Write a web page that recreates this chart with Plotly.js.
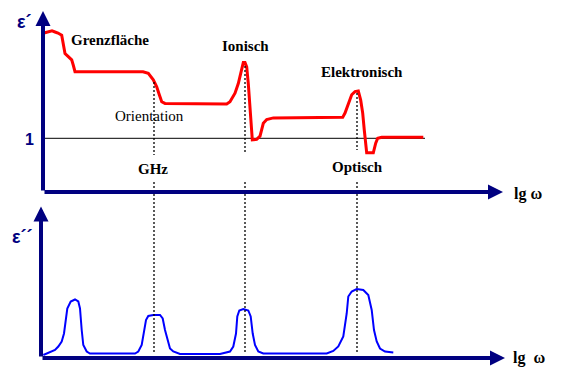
<!DOCTYPE html>
<html>
<head>
<meta charset="utf-8">
<script src="https://cdn.plot.ly/plotly-3.0.1.min.js"></script>
<style>html,body{margin:0;padding:0;background:#fff;}#chart{width:562px;height:371px;}</style>
</head>
<body>
<div id="chart"></div>
<script>
// ---- data (lg ω in arbitrary units) ----
const realX = [0.1,0.9,1.2,1.5,1.87,2.03,2.2,2.53,2.87,3.03,3.2,10.0,10.53,11.03,11.37,11.63,11.87,12.2,18.37,18.7,19.2,19.53,19.8,20.03,20.2,20.37,20.53,20.7,20.87,20.93,21.37,21.7,22.03,22.37,23.03,29.97,30.2,30.53,30.87,31.2,31.53,31.77,31.97,32.13,32.3,32.37,33.03,33.27,33.47,33.87,38.03];
const realY = [2.96,3.00,2.98,2.96,2.92,2.71,2.58,2.52,2.46,2.36,2.24,2.24,2.21,2.09,1.96,1.81,1.68,1.65,1.64,1.68,1.84,2.02,2.24,2.41,2.41,2.33,2.02,1.59,1.15,0.97,0.98,1.04,1.28,1.35,1.38,1.39,1.47,1.62,1.81,1.87,1.88,1.71,1.47,1.15,0.78,0.73,0.73,0.91,1.00,1.02,1.02];
const imagX = [0.03,0.7,1.2,1.53,1.87,2.1,2.3,2.43,2.77,3.2,3.53,3.7,3.87,4.03,4.37,4.7,9.2,9.53,9.87,10.1,10.3,10.53,11.03,11.7,11.97,12.2,12.43,12.7,13.03,13.7,17.7,18.7,19.03,19.3,19.43,19.63,20.03,20.53,20.77,20.97,21.2,21.53,22.03,28.37,29.03,29.53,30.03,30.37,30.53,30.87,31.37,32.03,32.53,32.87,33.1,33.37,33.7,34.2,35.03];
const imagY = [0.06,0.11,0.16,0.23,0.33,0.49,0.76,0.99,1.13,1.17,1.13,0.99,0.56,0.26,0.13,0.09,0.09,0.13,0.26,0.49,0.76,0.84,0.86,0.86,0.79,0.56,0.36,0.19,0.13,0.08,0.08,0.13,0.23,0.49,0.83,0.95,0.98,0.95,0.83,0.49,0.26,0.13,0.09,0.09,0.14,0.23,0.43,0.89,1.23,1.33,1.38,1.36,1.26,0.96,0.56,0.33,0.19,0.13,0.11];
const unityX = [0, 38.2];
const unityY = [1, 1];
const resonanceX = [11.1, 20.2, 31.4];
const mechanismLabels = ["Grenzfläche", "Orientation", "Ionisch", "Elektronisch"];
const regionLabels = ["GHz", "Optisch"];
const axisLabelX = "lg ω";
const axisLabelReal = "ε´";
const axisLabelImag = "ε´´";

// ---- layout helpers (pixel -> paper) ----
const W = 562, H = 371;
const PX = x => x / W;
const PY = y => 1 - y / H;
const NAVY = '#000080';
const SERIF = '"Liberation Serif", "Times New Roman", Times, serif';
const SANS = '"Liberation Sans", Arial, sans-serif';

const traces = [
  {x: unityX, y: unityY, xaxis: 'x', yaxis: 'y', mode: 'lines', line: {color: '#000', width: 1}, hoverinfo: 'skip'},
  {x: realX, y: realY, xaxis: 'x', yaxis: 'y', mode: 'lines', line: {color: '#ff0000', width: 3}, hoverinfo: 'skip'},
  {x: imagX, y: imagY, xaxis: 'x2', yaxis: 'y2', mode: 'lines', line: {color: '#0000ff', width: 2}, hoverinfo: 'skip'}
];

// dotted guide lines (upper and lower pieces, pixel extents)
const guideTop = [82, 66, 93];
const guideUpperEnd = [155, 152, 150];
const shapes = [];
resonanceX.forEach((rx, i) => {
  shapes.push({type: 'line', xref: 'x', yref: 'paper', x0: rx, x1: rx, y0: PY(guideTop[i]), y1: PY(guideUpperEnd[i]), layer: 'above', line: {color: '#000', width: 1.3, dash: '2px,2px'}});
  shapes.push({type: 'line', xref: 'x', yref: 'paper', x0: rx, x1: rx, y0: PY(182), y1: PY(353), layer: 'above', line: {color: '#000', width: 1.3, dash: '2px,2px'}});
});

function arrow(x, y, ax, ay, xr, yr) {
  return {x: x, y: y, ax: ax, ay: ay, xref: xr, yref: yr, axref: xr, ayref: yr, text: '', showarrow: true,
    arrowhead: 2, arrowsize: 0.75, arrowwidth: 4, arrowcolor: NAVY, standoff: 0, startstandoff: 0};
}
function label(text, x, y, size, bold, color, family) {
  return {text: bold ? '<b>' + text + '</b>' : text, x: PX(x), y: PY(y), xref: 'paper', yref: 'paper', showarrow: false,
    xanchor: 'center', yanchor: 'middle', font: {family: family || SERIF, size: size, color: color || '#000'}};
}

const annotations = [
  arrow(0, 3.37, 0, 0, 'x', 'y'),
  arrow(46.0, 0, 0, 0, 'x', 'y'),
  arrow(-0.2, 3.03, -0.2, 0, 'x2', 'y2'),
  arrow(46.2, 0, -0.2, 0, 'x2', 'y2'),
  label(axisLabelReal, 24, 22, 18, true, NAVY, SANS),
  label(axisLabelImag, 22, 237, 18, true, NAVY, SANS),
  label('1', 29, 139, 16, true, NAVY, SANS),
  label(mechanismLabels[0], 110, 40, 15, true),
  label(mechanismLabels[1], 149, 116, 15, false),
  label(mechanismLabels[2], 245, 46, 15, true),
  label(mechanismLabels[3], 362, 72, 15, true),
  label(regionLabels[0], 153, 169, 15, true),
  label(regionLabels[1], 357, 167, 15, true),
  label(axisLabelX, 528, 194, 16, true),
  label(axisLabelX.replace(' ', '  '), 529, 358, 16, true)
];

const hidden = {visible: false, showgrid: false, zeroline: false, fixedrange: true};
const layout = {
  width: W, height: H,
  margin: {l: 0, r: 0, t: 0, b: 0, pad: 0},
  paper_bgcolor: '#fff', plot_bgcolor: 'rgba(0,0,0,0)',
  showlegend: false,
  font: {family: SERIF},
  xaxis: Object.assign({}, hidden, {domain: [0, 1], range: [-4.3, 51.9], anchor: 'y'}),
  yaxis: Object.assign({}, hidden, {domain: [PY(192), PY(13)], range: [0, 179 / 53.7], anchor: 'x'}),
  xaxis2: Object.assign({}, hidden, {domain: [0, 1], range: [-4.3, 51.9], anchor: 'y2'}),
  yaxis2: Object.assign({}, hidden, {domain: [PY(358), PY(208)], range: [0, 3], anchor: 'x2'}),
  shapes: shapes,
  annotations: annotations
};
Plotly.newPlot('chart', traces, layout, {staticPlot: true, displayModeBar: false});
</script>
</body>
</html>
